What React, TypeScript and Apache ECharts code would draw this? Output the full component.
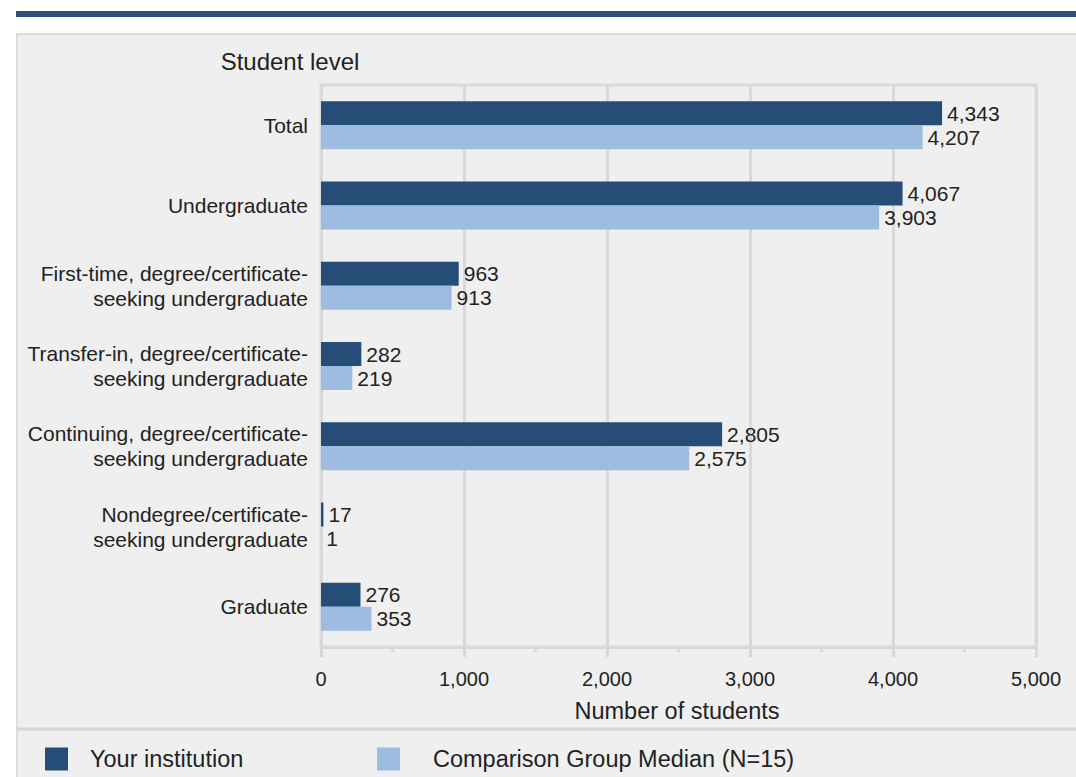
import React, { useEffect, useRef } from "react";
import * as echarts from "echarts";

const categories = [
  "Total",
  "Undergraduate",
  "First-time, degree/certificate-\nseeking undergraduate",
  "Transfer-in, degree/certificate-\nseeking undergraduate",
  "Continuing, degree/certificate-\nseeking undergraduate",
  "Nondegree/certificate-\nseeking undergraduate",
  "Graduate",
];
const yourInstitution = [4343, 4067, 963, 282, 2805, 17, 276];
const comparisonMedian = [4207, 3903, 913, 219, 2575, 1, 353];
const seriesNames = ["Your institution", "Comparison Group Median (N=15)"];
const xTicks = { min: 0, max: 5000, interval: 1000 };
const yAxisTitle = "Student level";
const xAxisTitle = "Number of students";

const DARK = "#254d78";
const LIGHT = "#9dbcdf";
const GRID = "#d9d9d9";
const TEXT = "#222222";
const FONT = "'Liberation Sans', Arial, sans-serif";

const fmt = (v: number) => v.toLocaleString("en-US");

export default function App() {
  const ref = useRef<HTMLDivElement>(null);
  useEffect(() => {
    if (!ref.current) return;
    const chart = echarts.init(ref.current, undefined, { renderer: "svg" });
    chart.setOption({
      animation: false,
      backgroundColor: "#ffffff",
      textStyle: { fontFamily: FONT },
      graphic: [
        {
          type: "rect",
          z: -10,
          silent: true,
          shape: { x: 16, y: 11, width: 1060, height: 6 },
          style: { fill: "#2c5179" },
        },
        {
          type: "rect",
          z: -10,
          silent: true,
          shape: { x: 17, y: 34, width: 1070, height: 760 },
          style: { fill: "#efefef", stroke: "#dcdcdc", lineWidth: 2 },
        },
        {
          type: "line",
          z: -5,
          silent: true,
          shape: { x1: 17, y1: 729, x2: 1076, y2: 729 },
          style: { stroke: "#d6d6d6", lineWidth: 3 },
        },
        {
          type: "text",
          x: 290,
          y: 61,
          style: {
            text: yAxisTitle,
            fill: TEXT,
            font: `24px ${FONT}`,
            textAlign: "center",
            textVerticalAlign: "middle",
          },
        },
        {
          type: "text",
          x: 677,
          y: 711,
          style: {
            text: xAxisTitle,
            fill: TEXT,
            font: `23.5px ${FONT}`,
            textAlign: "center",
            textVerticalAlign: "middle",
          },
        },
      ],
      legend: [
        {
          data: [seriesNames[0]],
          left: 45,
          top: 747,
          padding: 0,
          itemWidth: 23,
          itemHeight: 23,
          icon: "rect",
          selectedMode: false,
          textStyle: { fontSize: 23.5, color: TEXT, fontFamily: FONT, padding: [0, 0, 0, 17] },
        },
        {
          data: [seriesNames[1]],
          left: 377,
          top: 747,
          padding: 0,
          itemWidth: 23,
          itemHeight: 23,
          icon: "rect",
          selectedMode: false,
          textStyle: { fontSize: 23.5, color: TEXT, fontFamily: FONT, padding: [0, 0, 0, 28] },
        },
      ],
      grid: {
        left: 321,
        right: 40,
        top: 85,
        height: 562,
        show: true,
        borderColor: GRID,
        borderWidth: 3,
        backgroundColor: "transparent",
      },
      xAxis: {
        type: "value",
        min: xTicks.min,
        max: xTicks.max,
        interval: xTicks.interval,
        axisLine: { show: true, lineStyle: { color: GRID, width: 3 } },
        axisTick: { show: true, length: 10, lineStyle: { color: GRID, width: 3 } },
        minorTick: { show: true, splitNumber: 2, length: 5, lineStyle: { color: GRID, width: 3 } },
        splitLine: { show: true, lineStyle: { color: GRID, width: 3 } },
        axisLabel: {
          formatter: (v: number) => fmt(v),
          fontSize: 20,
          color: TEXT,
          margin: 22,
          fontFamily: FONT,
        },
      },
      yAxis: {
        type: "category",
        inverse: true,
        data: categories,
        axisLine: { show: true, lineStyle: { color: GRID, width: 3 } },
        axisTick: { show: false },
        splitLine: { show: false },
        axisLabel: {
          fontSize: 21,
          lineHeight: 25,
          color: TEXT,
          margin: 13,
          align: "right",
          fontFamily: FONT,
        },
      },
      series: [
        {
          name: seriesNames[0],
          type: "bar",
          data: yourInstitution,
          barWidth: 24,
          barGap: "0%",
          itemStyle: { color: DARK },
          label: {
            show: true,
            position: "right",
            distance: 5,
            fontSize: 21,
            color: TEXT,
            fontFamily: FONT,
            formatter: (p: any) => fmt(p.value),
          },
        },
        {
          name: seriesNames[1],
          type: "bar",
          data: comparisonMedian,
          barWidth: 24,
          barGap: "0%",
          itemStyle: { color: LIGHT },
          label: {
            show: true,
            position: "right",
            distance: 5,
            fontSize: 21,
            color: TEXT,
            fontFamily: FONT,
            formatter: (p: any) => fmt(p.value),
          },
        },
      ],
    });
    return () => chart.dispose();
  }, []);
  return (
    <div
      ref={ref}
      style={{ position: "absolute", left: 0, top: 0, width: 1076, height: 777 }}
    />
  );
}
